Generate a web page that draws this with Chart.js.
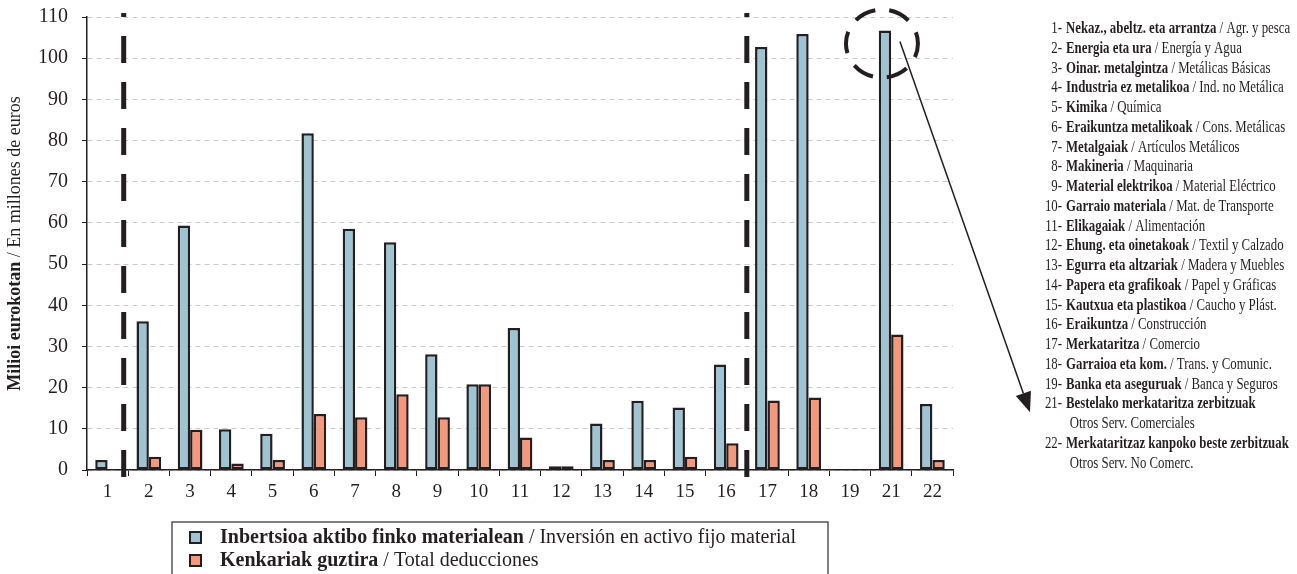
<!DOCTYPE html>
<html>
<head>
<meta charset="utf-8">
<script src="https://cdn.jsdelivr.net/npm/chart.js"></script>
<style>
  html, body { margin: 0; padding: 0; background: #fff; }
  #wrap { position: relative; width: 1297px; height: 574px; overflow: hidden; }
</style>
</head>
<body>
<div id="wrap"><canvas id="chart" width="1297" height="574"></canvas></div>
<script>
// --- data ---
const categories = ['1', '2', '3', '4', '5', '6', '7', '8', '9', '10', '11', '12', '13', '14', '15', '16', '17', '18', '19', '21', '22'];
const inversion = [2.4, 36.1, 59.4, 9.9, 8.8, 81.8, 58.6, 55.3, 28.1, 20.8, 34.5, 0.9, 11.3, 16.8, 15.2, 25.6, 102.7, 105.9, null, 106.7, 16.0];
const deducciones = [null, 3.2, 9.8, 1.6, 2.4, 13.6, 12.8, 18.4, 12.8, 20.8, 7.9, 0.9, 2.4, 2.4, 3.2, 6.5, 16.9, 17.6, null, 32.9, 2.4];
const yTicks = [0, 10, 20, 30, 40, 50, 60, 70, 80, 90, 100, 110];

const seriesEu = ['Inbertsioa aktibo finko materialean', 'Kenkariak guztira'];
const seriesEs = ['Inversión en activo fijo material', 'Total deducciones'];
const yTitleEu = 'Milioi eurokotan';
const yTitleEs = 'En millones de euros';

const sectorNums = categories;
const sectorEu = ['Nekaz., abeltz. eta arrantza', 'Energia eta ura', 'Oinar. metalgintza', 'Industria ez metalikoa', 'Kimika',
  'Eraikuntza metalikoak', 'Metalgaiak', 'Makineria', 'Material elektrikoa', 'Garraio materiala', 'Elikagaiak',
  'Ehung. eta oinetakoak', 'Egurra eta altzariak', 'Papera eta grafikoak', 'Kautxua eta plastikoa', 'Eraikuntza',
  'Merkataritza', 'Garraioa eta kom.', 'Banka eta aseguruak', 'Bestelako merkataritza zerbitzuak', 'Merkataritzaz kanpoko beste zerbitzuak'];
const sectorEs = ['Agr. y pesca', 'Energía y Agua', 'Metálicas Básicas', 'Ind. no Metálica', 'Química',
  'Cons. Metálicas', 'Artículos Metálicos', 'Maquinaria', 'Material Eléctrico', 'Mat. de Transporte', 'Alimentación',
  'Textil y Calzado', 'Madera y Muebles', 'Papel y Gráficas', 'Caucho y Plást.', 'Construcción',
  'Comercio', 'Trans. y Comunic.', 'Banca y Seguros', 'Otros Serv. Comerciales', 'Otros Serv. No Comerc.'];
const twoLineSectors = ['21', '22'];
const dividers = [0.39, 15.5];   // dashed separators, in category-index units
const highlight = '21';

const INK = '#231F20';
const BLUE = '#9EC3D3';
const ORANGE = '#F4977A';
const SERIF = '"Liberation Serif", "Times New Roman", serif';

// annotations, titles and both legends
const extras = {
  id: 'extras',
  afterDatasetsDraw(chart) {
    const ctx = chart.ctx;
    const x = chart.scales.x;

    // thick dashed separators
    ctx.save();
    ctx.strokeStyle = INK;
    ctx.lineWidth = 5;
    ctx.setLineDash([27, 19]);
    ctx.lineDashOffset = 23;
    dividers.forEach(d => {
      const px = x.getPixelForValue(d);
      ctx.beginPath();
      ctx.moveTo(px, 13);
      ctx.lineTo(px, 478);
      ctx.stroke();
    });
    ctx.restore();
  },
  afterDraw(chart) {
    const ctx = chart.ctx;
    const area = chart.chartArea;

    // y title, rotated, bold + regular
    ctx.save();
    ctx.translate(15, (area.top + area.bottom) / 2);
    ctx.rotate(-Math.PI / 2);
    ctx.textBaseline = 'middle';
    ctx.fillStyle = INK;
    const fb = 'bold 18px ' + SERIF, fn = '18px ' + SERIF;
    ctx.font = fb; const w1 = ctx.measureText(yTitleEu).width;
    ctx.font = fn; const w2 = ctx.measureText(' / ' + yTitleEs).width;
    const cx = -(w1 + w2) / 2;
    ctx.font = fb; ctx.fillText(yTitleEu, cx, 0);
    ctx.font = fn; ctx.fillText(' / ' + yTitleEs, cx + w1, 0);
    ctx.restore();

    // right-hand sector list (condensed serif)
    const sx = 0.755, numRight = 1062, textLeft = 1066, top = 33, step = 19.75;
    const lb = 'bold 17px ' + SERIF, ln = '17px ' + SERIF;
    let row = 0, hlY = 0;
    ctx.save();
    ctx.fillStyle = INK;
    ctx.textBaseline = 'alphabetic';
    sectorNums.forEach((n, i) => {
      const yy = top + row * step;
      if (n === highlight) hlY = yy;
      ctx.save();
      ctx.translate(numRight, yy); ctx.scale(sx, 1);
      ctx.textAlign = 'right'; ctx.font = ln;
      ctx.fillText(n + '-', 0, 0);
      ctx.restore();

      ctx.save();
      ctx.translate(textLeft, yy); ctx.scale(sx, 1);
      ctx.textAlign = 'left'; ctx.font = lb;
      ctx.fillText(sectorEu[i], 0, 0);
      const w = ctx.measureText(sectorEu[i]).width;
      ctx.font = ln;
      if (twoLineSectors.includes(n)) {
        ctx.fillText(sectorEs[i], 5, step);
        row++;
      } else {
        ctx.fillText(' / ' + sectorEs[i], w, 0);
      }
      ctx.restore();
      row++;
    });
    ctx.restore();

    // dashed ellipse round the top of the highlighted bar and the arrow to its label
    const bar = chart.getDatasetMeta(0).data[categories.indexOf(highlight)];
    const ex = bar.x - 3, ey = bar.y + 13;
    ctx.save();
    ctx.strokeStyle = INK;
    ctx.lineWidth = 4;
    ctx.setLineDash([22, 14]);
    ctx.lineDashOffset = 8;
    ctx.beginPath();
    ctx.ellipse(ex, ey, 36, 34, 0, 0, Math.PI * 2);
    ctx.stroke();
    ctx.setLineDash([]);
    const ax = bar.x + 15, ay = bar.y + 11;
    const tx = textLeft - 36, ty = hlY + 4;
    const ang = Math.atan2(ty - ay, tx - ax);
    const hl = 20, hw = 8;
    const bx = tx - hl * Math.cos(ang), by = ty - hl * Math.sin(ang);
    ctx.lineWidth = 1.5;
    ctx.beginPath(); ctx.moveTo(ax, ay); ctx.lineTo(bx, by); ctx.stroke();
    ctx.fillStyle = INK;
    ctx.beginPath();
    ctx.moveTo(tx, ty);
    ctx.lineTo(bx + hw * Math.sin(ang), by - hw * Math.cos(ang));
    ctx.lineTo(bx - hw * Math.sin(ang), by + hw * Math.cos(ang));
    ctx.closePath(); ctx.fill();
    ctx.restore();

    // bottom legend box
    ctx.save();
    ctx.strokeStyle = '#555';
    ctx.lineWidth = 1.5;
    ctx.strokeRect(172, 522, 656, 70);
    const colors = [BLUE, ORANGE];
    const lfb = 'bold 20px ' + SERIF, lfn = '20px ' + SERIF;
    seriesEu.forEach((s, i) => {
      const cy = 538 + i * 23;
      ctx.fillStyle = colors[i];
      ctx.fillRect(190, cy - 6, 11, 11);
      ctx.strokeStyle = INK; ctx.lineWidth = 2;
      ctx.strokeRect(190, cy - 6, 11, 11);
      ctx.fillStyle = INK; ctx.textBaseline = 'middle'; ctx.textAlign = 'left';
      ctx.font = lfb; ctx.fillText(s, 220, cy);
      const w = ctx.measureText(s).width;
      ctx.font = lfn; ctx.fillText(' / ' + seriesEs[i], 220 + w, cy);
    });
    ctx.restore();
  }
};

new Chart(document.getElementById('chart'), {
  type: 'bar',
  data: {
    labels: categories,
    datasets: [
      { label: seriesEu[0], data: inversion, backgroundColor: BLUE },
      { label: seriesEu[1], data: deducciones, backgroundColor: ORANGE }
    ]
  },
  options: {
    responsive: false,
    animation: false,
    layout: { padding: { top: 17, right: 344, left: 0, bottom: 0 } },
    datasets: {
      bar: { categoryPercentage: 0.6, barPercentage: 1.0, borderWidth: 2.5, borderColor: INK, borderSkipped: false }
    },
    plugins: { legend: { display: false }, tooltip: { enabled: false } },
    scales: {
      x: {
        grid: { drawOnChartArea: false, drawTicks: true, tickLength: 6, tickColor: INK, tickWidth: 1, offset: true },
        border: { color: INK, width: 1.5 },
        ticks: { color: INK, font: { family: SERIF, size: 19 }, padding: 5, maxRotation: 0, autoSkip: false },
        afterFit: s => { s.height = 104; }
      },
      y: {
        min: 0,
        max: 110,
        afterBuildTicks: s => { s.ticks = yTicks.map(v => ({ value: v })); },
        grid: { color: '#c8c8c8', lineWidth: 1, tickColor: INK, tickLength: 5, tickBorderDash: [] },
        border: { color: INK, width: 1.5, dash: [5, 4] },
        ticks: { color: INK, font: { family: SERIF, size: 20 }, padding: 14 },
        afterFit: s => { s.width = 87; s.paddingTop = 0; s.paddingBottom = 0; }
      }
    }
  },
  plugins: [extras]
});
</script>
</body>
</html>
